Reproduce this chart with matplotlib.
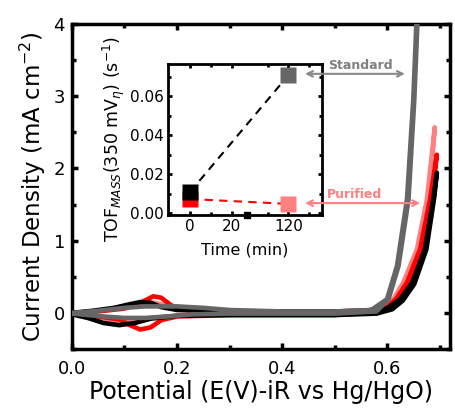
import numpy as np
import matplotlib
matplotlib.use("Agg")
import matplotlib.pyplot as plt
from matplotlib.ticker import MultipleLocator, FixedLocator, FormatStrFormatter

plt.rcParams['font.family'] = ['DejaVu Sans']
plt.rcParams['mathtext.fontset'] = 'dejavusans'

# ---------------- main CV data (potential V, current mA cm^-2) ----------------
black_x = [0.0, 0.04, 0.08, 0.11, 0.13, 0.15, 0.17, 0.20, 0.30, 0.40, 0.50, 0.56, 0.60, 0.625, 0.648, 0.672, 0.688, 0.695,
           0.69, 0.675, 0.652, 0.63, 0.61, 0.58, 0.50, 0.40, 0.30, 0.20, 0.15, 0.12, 0.09, 0.06, 0.03, 0.0]
black_y = [0.0, 0.03, 0.07, 0.12, 0.15, 0.14, 0.08, 0.04, 0.02, 0.02, 0.02, 0.03, 0.06, 0.19, 0.42, 0.88, 1.57, 1.94,
           1.60, 0.88, 0.40, 0.17, 0.05, -0.01, -0.03, -0.03, -0.03, -0.04, -0.08, -0.14, -0.17, -0.14, -0.07, -0.02]

red_x = [0.0, 0.05, 0.10, 0.13, 0.155, 0.17, 0.19, 0.22, 0.30, 0.40, 0.50, 0.56, 0.60, 0.617, 0.638, 0.663, 0.682, 0.695,
         0.686, 0.667, 0.642, 0.62, 0.60, 0.57, 0.50, 0.40, 0.30, 0.20, 0.17, 0.15, 0.13, 0.11, 0.09, 0.05, 0.0]
red_y = [0.0, 0.02, 0.06, 0.14, 0.23, 0.21, 0.10, 0.04, 0.02, 0.02, 0.02, 0.03, 0.08, 0.19, 0.42, 0.88, 1.57, 2.19,
         1.60, 0.88, 0.40, 0.17, 0.05, 0.0, -0.03, -0.03, -0.03, -0.05, -0.10, -0.20, -0.23, -0.17, -0.09, -0.05, -0.02]

pink_x = [0.0, 0.05, 0.10, 0.13, 0.15, 0.17, 0.20, 0.30, 0.40, 0.50, 0.56, 0.59, 0.612, 0.631, 0.657, 0.676, 0.691,
          0.683, 0.662, 0.636, 0.615, 0.59, 0.50, 0.40, 0.30, 0.20, 0.15, 0.12, 0.10, 0.07, 0.04, 0.0]
pink_y = [0.0, 0.03, 0.07, 0.12, 0.15, 0.12, 0.05, 0.02, 0.02, 0.02, 0.03, 0.07, 0.19, 0.42, 0.88, 1.57, 2.57,
          1.80, 0.88, 0.40, 0.17, 0.02, -0.02, -0.02, -0.02, -0.04, -0.07, -0.11, -0.12, -0.09, -0.05, -0.02]

gray_x = [0.0, 0.05, 0.10, 0.14, 0.20, 0.25, 0.30, 0.40, 0.50, 0.57, 0.60, 0.619, 0.638, 0.650, 0.657,
          0.659, 0.652, 0.641, 0.622, 0.603, 0.58, 0.50, 0.40, 0.30, 0.23, 0.18, 0.14, 0.10, 0.06, 0.03, 0.0]
gray_y = [0.0, 0.03, 0.07, 0.09, 0.09, 0.07, 0.04, 0.02, 0.02, 0.04, 0.19, 0.65, 1.57, 2.95, 4.2,
          4.2, 2.95, 1.57, 0.65, 0.19, 0.02, -0.01, -0.01, -0.01, -0.02, -0.05, -0.07, -0.07, -0.05, -0.03, -0.01]

# ---------------- inset TOF data ----------------
time_min = [0, 120]
tof_standard = [0.0108, 0.0708]
tof_purified = [0.0072, 0.0047]

c_gray = '#666666'
c_pink = '#FF8080'
c_red = '#FF0000'

fig = plt.figure(figsize=(4.56, 4.12), dpi=100)
ax = fig.add_axes([72/456, 1-349/412, (450-72)/456, (349-24)/412])

ax.plot(pink_x, pink_y, color=c_pink, lw=3.3, solid_capstyle='round', solid_joinstyle='round', zorder=2)
ax.plot(red_x, red_y, color=c_red, lw=3.3, solid_capstyle='round', solid_joinstyle='round', zorder=3)
ax.plot(black_x, black_y, color='black', lw=3.3, solid_capstyle='round', solid_joinstyle='round', zorder=4)
ax.plot(gray_x, gray_y, color=c_gray, lw=3.3, solid_capstyle='round', solid_joinstyle='round', zorder=5)

ax.set_xlim(0, 0.72)
ax.set_ylim(-0.5, 4)
ax.xaxis.set_major_locator(MultipleLocator(0.2))
ax.xaxis.set_minor_locator(MultipleLocator(0.1))
ax.xaxis.set_major_formatter(FormatStrFormatter('%.1f'))
ax.yaxis.set_major_locator(MultipleLocator(1))
ax.yaxis.set_minor_locator(MultipleLocator(0.5))
for s in ax.spines.values():
    s.set_linewidth(2.5)
ax.tick_params(which='both', direction='in', top=True, right=True, labelsize=13)
ax.tick_params(axis='x', pad=8)
ax.tick_params(axis='y', pad=5)
ax.tick_params(which='major', length=4, width=2.5)
ax.tick_params(which='minor', length=3, width=2.5)
ax.set_xlabel('Potential (E(V)-iR vs Hg/HgO)', fontsize=17, labelpad=1)
ax.set_ylabel('Current Density (mA cm$^{-2}$)', fontsize=16.5, labelpad=4)

# ---------------- inset ----------------
ins = fig.add_axes([168/456, 1-215/412, (322-168)/456, (215-64)/412])

def fwd(t):
    t = np.asarray(t, float)
    return np.where(t <= 27, t, np.where(t >= 100, t - 73, 27.0))

def inv(p):
    p = np.asarray(p, float)
    return np.where(p <= 27, p, p + 73)

ins.set_xscale('function', functions=(fwd, inv))
ins.plot(time_min, tof_purified, color=c_red, lw=1.5, ls=(0, (4, 3)), zorder=2)
ins.plot(time_min, tof_standard, color='black', lw=1.5, ls=(0, (4, 3)), zorder=2)
ins.plot(time_min[0], tof_purified[0], 's', color=c_red, ms=11.5, mec='none', zorder=3)
ins.plot(time_min[0], tof_standard[0], 's', color='black', ms=11.5, mec='none', zorder=4)
ins.plot(time_min[1], tof_purified[1], 's', color=c_pink, ms=11.5, mec='none', zorder=4)
ins.plot(time_min[1], tof_standard[1], 's', color=c_gray, ms=11.5, mec='none', zorder=4)

ins.set_xlim(-10.5, 136)
ins.set_ylim(-0.001, 0.0765)
ins.xaxis.set_major_locator(FixedLocator([0, 20, 120]))
ins.xaxis.set_minor_locator(FixedLocator([10, 110, 130]))
ins.xaxis.set_major_formatter(FormatStrFormatter('%d'))
ins.yaxis.set_major_locator(MultipleLocator(0.02))
ins.yaxis.set_minor_locator(MultipleLocator(0.01))
ins.yaxis.set_major_formatter(FormatStrFormatter('%.2f'))
for s in ins.spines.values():
    s.set_linewidth(2)
ins.tick_params(which='both', direction='in', top=True, right=True, labelsize=11, pad=3)
ins.tick_params(which='major', length=3, width=2)
ins.tick_params(which='minor', length=2, width=2)
ins.set_xlabel('Time (min)', fontsize=11.5, labelpad=6)
ins.set_ylabel('TOF$_{MASS}$(350 mV$_{\\eta}$) (s$^{-1}$)', fontsize=12.5, labelpad=2)
# axis break mark
ins.plot([27], [0], marker='s', ms=4, color='black', transform=ins.get_xaxis_transform(), clip_on=False, zorder=6)

# annotations (drawn on top of the inset, positioned in main-axes data units)
ins.annotate('', xy=(0.444, 3.31), xytext=(0.634, 3.31), xycoords=ax.transData, textcoords=ax.transData,
             annotation_clip=False,
             arrowprops=dict(arrowstyle='<->', color='#888888', lw=1.5, shrinkA=0, shrinkB=0))
ins.text(0.549, 3.43, 'Standard', color='#808080', fontsize=9, fontweight='bold', ha='center', va='center',
         transform=ax.transData, clip_on=False)
ins.annotate('', xy=(0.444, 1.52), xytext=(0.663, 1.52), xycoords=ax.transData, textcoords=ax.transData,
             annotation_clip=False,
             arrowprops=dict(arrowstyle='<->', color=c_pink, lw=1.5, shrinkA=0, shrinkB=0))
ins.text(0.539, 1.64, 'Purified', color=c_pink, fontsize=9, fontweight='bold', ha='center', va='center',
         transform=ax.transData, clip_on=False)

fig.savefig('out.png', dpi=100)
